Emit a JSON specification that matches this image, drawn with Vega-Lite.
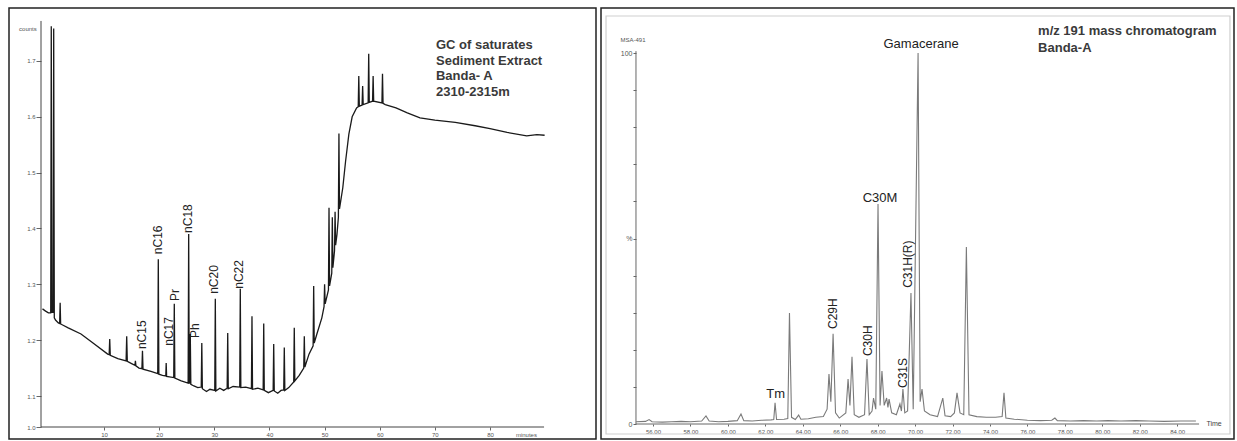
{
  "$schema": "https://vega.github.io/schema/vega-lite/v6.json",
  "autosize": {"type": "pad"},
  "padding": {"left": 8, "top": 7, "right": 0, "bottom": 0},
  "background": "white",
  "spacing": 5,
  "bounds": "flush",
  "config": {
    "view": {"stroke": "#222", "strokeWidth": 1.5},
    "font": "Liberation Sans",
    "axis": {"domain": false, "grid": false, "labelColor": "#555", "tickColor": "#666", "title": null, "labelFont": "Liberation Sans"}
  },
  "datasets": {
    "one": [{}],
    "gc": [
      {"m": -1.16, "v": 1.256}, {"m": -0.6, "v": 1.252}, {"m": -0.09, "v": 1.249}, {"m": 0.33, "v": 1.249},
      {"m": 0.43, "v": 1.762}, {"m": 0.55, "v": 1.25}, {"m": 0.78, "v": 1.25}, {"m": 0.87, "v": 1.758},
      {"m": 0.98, "v": 1.24}, {"m": 1.2, "v": 1.236}, {"m": 1.71, "v": 1.231}, {"m": 1.95, "v": 1.23},
      {"m": 2.04, "v": 1.267}, {"m": 2.13, "v": 1.229}, {"m": 3.5, "v": 1.222}, {"m": 5.82, "v": 1.211},
      {"m": 8.0, "v": 1.195}, {"m": 10.66, "v": 1.175}, {"m": 10.93, "v": 1.174}, {"m": 11.03, "v": 1.202},
      {"m": 11.13, "v": 1.173}, {"m": 12.5, "v": 1.167}, {"m": 14.0, "v": 1.163}, {"m": 14.11, "v": 1.207},
      {"m": 14.22, "v": 1.162}, {"m": 15.0, "v": 1.158}, {"m": 15.6, "v": 1.155}, {"m": 15.69, "v": 1.163},
      {"m": 15.78, "v": 1.154}, {"m": 16.34, "v": 1.15}, {"m": 16.87, "v": 1.149}, {"m": 16.97, "v": 1.181},
      {"m": 17.07, "v": 1.148}, {"m": 18.5, "v": 1.144}, {"m": 19.74, "v": 1.14}, {"m": 19.84, "v": 1.345},
      {"m": 19.94, "v": 1.139}, {"m": 20.6, "v": 1.137}, {"m": 21.2, "v": 1.136}, {"m": 21.27, "v": 1.159},
      {"m": 21.35, "v": 1.135}, {"m": 22.64, "v": 1.133}, {"m": 22.74, "v": 1.265}, {"m": 22.84, "v": 1.132},
      {"m": 24.0, "v": 1.127}, {"m": 25.25, "v": 1.123}, {"m": 25.35, "v": 1.39}, {"m": 25.45, "v": 1.123},
      {"m": 25.55, "v": 1.123}, {"m": 25.64, "v": 1.211}, {"m": 25.74, "v": 1.121}, {"m": 26.3, "v": 1.118},
      {"m": 27.0, "v": 1.115}, {"m": 27.63, "v": 1.116}, {"m": 27.73, "v": 1.195}, {"m": 27.83, "v": 1.113},
      {"m": 28.58, "v": 1.108}, {"m": 29.2, "v": 1.112}, {"m": 30.08, "v": 1.11}, {"m": 30.18, "v": 1.274},
      {"m": 30.28, "v": 1.109}, {"m": 31.0, "v": 1.114}, {"m": 31.7, "v": 1.11}, {"m": 32.33, "v": 1.114},
      {"m": 32.43, "v": 1.213}, {"m": 32.53, "v": 1.113}, {"m": 33.4, "v": 1.117}, {"m": 34.61, "v": 1.116},
      {"m": 34.71, "v": 1.292}, {"m": 34.81, "v": 1.115}, {"m": 35.7, "v": 1.116}, {"m": 36.73, "v": 1.113},
      {"m": 36.83, "v": 1.243}, {"m": 36.93, "v": 1.112}, {"m": 37.9, "v": 1.114}, {"m": 38.86, "v": 1.111},
      {"m": 38.96, "v": 1.23}, {"m": 39.06, "v": 1.11}, {"m": 39.8, "v": 1.106}, {"m": 40.67, "v": 1.11},
      {"m": 40.77, "v": 1.193}, {"m": 40.87, "v": 1.109}, {"m": 41.5, "v": 1.105}, {"m": 42.1, "v": 1.11},
      {"m": 42.59, "v": 1.111}, {"m": 42.69, "v": 1.187}, {"m": 42.79, "v": 1.11}, {"m": 43.5, "v": 1.115},
      {"m": 44.4, "v": 1.125}, {"m": 44.5, "v": 1.222}, {"m": 44.6, "v": 1.127}, {"m": 45.4, "v": 1.137},
      {"m": 46.22, "v": 1.15}, {"m": 46.32, "v": 1.207}, {"m": 46.42, "v": 1.152}, {"m": 47.17, "v": 1.175},
      {"m": 47.92, "v": 1.19}, {"m": 48.02, "v": 1.297}, {"m": 48.12, "v": 1.195}, {"m": 48.6, "v": 1.211},
      {"m": 49.5, "v": 1.24}, {"m": 49.9, "v": 1.26}, {"m": 50.0, "v": 1.3}, {"m": 50.1, "v": 1.265},
      {"m": 50.7, "v": 1.29}, {"m": 50.8, "v": 1.437}, {"m": 50.9, "v": 1.297}, {"m": 51.3, "v": 1.32},
      {"m": 51.4, "v": 1.42}, {"m": 51.5, "v": 1.33}, {"m": 51.8, "v": 1.36}, {"m": 51.9, "v": 1.43},
      {"m": 52.0, "v": 1.37}, {"m": 52.25, "v": 1.39}, {"m": 52.5, "v": 1.42}, {"m": 52.6, "v": 1.57},
      {"m": 52.7, "v": 1.435}, {"m": 53.3, "v": 1.473}, {"m": 53.8, "v": 1.52}, {"m": 54.4, "v": 1.569},
      {"m": 55.0, "v": 1.6}, {"m": 55.8, "v": 1.616}, {"m": 56.1, "v": 1.618}, {"m": 56.2, "v": 1.673},
      {"m": 56.3, "v": 1.619}, {"m": 56.8, "v": 1.621}, {"m": 56.9, "v": 1.655}, {"m": 57.0, "v": 1.622},
      {"m": 57.9, "v": 1.625}, {"m": 58.0, "v": 1.713}, {"m": 58.1, "v": 1.626}, {"m": 58.7, "v": 1.628},
      {"m": 58.8, "v": 1.673}, {"m": 58.9, "v": 1.628}, {"m": 60.4, "v": 1.625}, {"m": 60.5, "v": 1.677},
      {"m": 60.6, "v": 1.624}, {"m": 61.0, "v": 1.622}, {"m": 62.95, "v": 1.616}, {"m": 65.0, "v": 1.607},
      {"m": 67.3, "v": 1.598}, {"m": 70.0, "v": 1.594}, {"m": 73.7, "v": 1.59}, {"m": 77.3, "v": 1.584},
      {"m": 80.0, "v": 1.579}, {"m": 83.1, "v": 1.572}, {"m": 86.65, "v": 1.566}, {"m": 88.5, "v": 1.568},
      {"m": 89.9, "v": 1.567}
    ],
    "gcLabels": [
      {"m": 16.97, "v": 1.184, "label": "nC15"},
      {"m": 19.84, "v": 1.354, "label": "nC16"},
      {"m": 21.85, "v": 1.19, "label": "nC17"},
      {"m": 22.87, "v": 1.27, "label": "Pr"},
      {"m": 25.23, "v": 1.392, "label": "nC18"},
      {"m": 26.44, "v": 1.204, "label": "Ph"},
      {"m": 30.01, "v": 1.283, "label": "nC20"},
      {"m": 34.53, "v": 1.292, "label": "nC22"}
    ],
    "mz": [
      {"t": 55.1, "p": 0.6}, {"t": 55.6, "p": 0.7}, {"t": 55.79, "p": 1.2}, {"t": 55.95, "p": 0.6},
      {"t": 56.5, "p": 0.5}, {"t": 57.0, "p": 0.6}, {"t": 57.5, "p": 0.7}, {"t": 58.0, "p": 0.6},
      {"t": 58.6, "p": 0.8}, {"t": 58.83, "p": 2.2}, {"t": 59.0, "p": 0.8}, {"t": 59.5, "p": 0.6},
      {"t": 60.0, "p": 0.7}, {"t": 60.5, "p": 0.9}, {"t": 60.7, "p": 2.7}, {"t": 60.85, "p": 0.9},
      {"t": 61.3, "p": 0.8}, {"t": 61.8, "p": 1.0}, {"t": 62.3, "p": 1.1}, {"t": 62.45, "p": 1.2},
      {"t": 62.52, "p": 5.7}, {"t": 62.6, "p": 1.2}, {"t": 63.0, "p": 1.3}, {"t": 63.2, "p": 1.5},
      {"t": 63.29, "p": 29.9}, {"t": 63.4, "p": 1.8}, {"t": 63.6, "p": 1.2}, {"t": 63.78, "p": 2.4},
      {"t": 63.9, "p": 1.3}, {"t": 64.3, "p": 1.4}, {"t": 64.7, "p": 1.8}, {"t": 65.1, "p": 2.0},
      {"t": 65.3, "p": 4}, {"t": 65.4, "p": 13.5}, {"t": 65.5, "p": 6}, {"t": 65.62, "p": 24.3},
      {"t": 65.75, "p": 3}, {"t": 65.95, "p": 1.6}, {"t": 66.3, "p": 3}, {"t": 66.42, "p": 12.1},
      {"t": 66.52, "p": 5}, {"t": 66.63, "p": 18.1}, {"t": 66.75, "p": 2.5}, {"t": 67.0, "p": 1.8},
      {"t": 67.3, "p": 2.5}, {"t": 67.43, "p": 17.5}, {"t": 67.55, "p": 2.5}, {"t": 67.7, "p": 3.5},
      {"t": 67.78, "p": 7}, {"t": 67.9, "p": 4}, {"t": 68.02, "p": 59.3}, {"t": 68.13, "p": 5},
      {"t": 68.23, "p": 14.3}, {"t": 68.35, "p": 5}, {"t": 68.48, "p": 7}, {"t": 68.55, "p": 4.5},
      {"t": 68.61, "p": 6.7}, {"t": 68.75, "p": 3.0}, {"t": 69.0, "p": 2.5}, {"t": 69.19, "p": 5.4},
      {"t": 69.27, "p": 3.5}, {"t": 69.35, "p": 9.4}, {"t": 69.45, "p": 3}, {"t": 69.6, "p": 3.5},
      {"t": 69.78, "p": 35.3}, {"t": 69.9, "p": 4}, {"t": 70.16, "p": 100}, {"t": 70.27, "p": 6},
      {"t": 70.37, "p": 9.4}, {"t": 70.5, "p": 3.5}, {"t": 70.8, "p": 2.5}, {"t": 71.2, "p": 2.0},
      {"t": 71.48, "p": 7}, {"t": 71.6, "p": 2.2}, {"t": 71.9, "p": 2.0}, {"t": 72.1, "p": 3},
      {"t": 72.24, "p": 8.4}, {"t": 72.4, "p": 3}, {"t": 72.6, "p": 2.5}, {"t": 72.74, "p": 47.7},
      {"t": 72.88, "p": 2.5}, {"t": 73.3, "p": 2.0}, {"t": 73.8, "p": 1.8}, {"t": 74.3, "p": 1.8},
      {"t": 74.65, "p": 2.0}, {"t": 74.75, "p": 8.4}, {"t": 74.85, "p": 1.6}, {"t": 75.3, "p": 1.3},
      {"t": 76.0, "p": 1.0}, {"t": 76.7, "p": 0.9}, {"t": 77.3, "p": 1.0}, {"t": 77.47, "p": 1.6},
      {"t": 77.6, "p": 0.9}, {"t": 78.3, "p": 0.8}, {"t": 79.0, "p": 0.9}, {"t": 79.7, "p": 0.8},
      {"t": 80.3, "p": 0.9}, {"t": 81.0, "p": 0.8}, {"t": 81.8, "p": 0.9}, {"t": 82.5, "p": 0.8},
      {"t": 83.3, "p": 0.7}, {"t": 84.2, "p": 0.8}, {"t": 85.0, "p": 0.8}
    ],
    "mzRot": [
      {"t": 65.62, "p": 25.6, "label": "C29H"},
      {"t": 67.51, "p": 18.3, "label": "C30H"},
      {"t": 69.33, "p": 9.7, "label": "C31S"},
      {"t": 69.64, "p": 36.7, "label": "C31H(R)"}
    ],
    "mzFlat": [
      {"t": 70.32, "p": 102.4, "label": "Gamacerane"},
      {"t": 68.13, "p": 60.9, "label": "C30M"},
      {"t": 62.55, "p": 8.1, "label": "Tm"}
    ]
  },
  "hconcat": [
    {
      "width": 587,
      "height": 431,
      "layer": [
        {
          "data": {"name": "gc"},
          "mark": {"type": "line", "color": "#1a1a1a", "strokeWidth": 1.3, "interpolate": "linear"},
          "encoding": {
            "x": {"field": "m", "type": "quantitative", "sort": null,
              "scale": {"domain": [-7.236, 99.22], "zero": false, "nice": false},
              "axis": {"values": [10, 20, 30, 40, 50, 60, 70, 80], "offset": -12, "labelFontSize": 6, "tickSize": 3, "labelPadding": 1}},
            "y": {"field": "v", "type": "quantitative",
              "scale": {"domain": [0.9613, 1.0, 1.1, 1.7949], "range": [431, 419, 388, 0], "zero": false, "nice": false},
              "axis": {"values": [1.0, 1.1, 1.2, 1.3, 1.4, 1.5, 1.6, 1.7], "format": ".1f", "offset": -32, "labelFontSize": 6, "tickSize": 5, "labelPadding": 1}}
          }
        },
        {
          "data": {"name": "one"},
          "mark": {"type": "rule", "color": "#444", "strokeWidth": 1},
          "encoding": {"x": {"datum": -1.43}, "y": {"datum": 1.0}, "y2": {"datum": 1.7717}}
        },
        {
          "data": {"name": "one"},
          "mark": {"type": "rule", "color": "#444", "strokeWidth": 1},
          "encoding": {"y": {"datum": 1.0}, "x": {"datum": -1.43}, "x2": {"datum": 89.8}}
        },
        {
          "data": {"name": "gcLabels"},
          "mark": {"type": "text", "angle": 270, "align": "left", "baseline": "middle", "fontSize": 12, "color": "#222", "font": "Liberation Sans"},
          "encoding": {"x": {"field": "m", "type": "quantitative"}, "y": {"field": "v", "type": "quantitative"}, "text": {"field": "label"}}
        },
        {
          "data": {"name": "one"},
          "mark": {"type": "text", "align": "left", "baseline": "top", "fontSize": 13, "fontWeight": "bold", "color": "#3a3a3a", "lineHeight": 15.7, "font": "Liberation Sans"},
          "encoding": {"x": {"datum": 70.2}, "y": {"datum": 1.7394}, "text": {"value": ["GC  of saturates", "Sediment Extract", "Banda- A", "2310-2315m"]}}
        },
        {
          "data": {"name": "one"},
          "mark": {"type": "text", "align": "center", "baseline": "middle", "fontSize": 6, "color": "#555"},
          "encoding": {"x": {"datum": -3.8}, "y": {"datum": 1.758}, "text": {"value": "counts"}}
        },
        {
          "data": {"name": "one"},
          "mark": {"type": "text", "align": "center", "baseline": "middle", "fontSize": 6, "color": "#555"},
          "encoding": {"x": {"datum": 86.6}, "y": {"datum": 0.975}, "text": {"value": "minutes"}}
        }
      ]
    },
    {
      "width": 633,
      "height": 431,
      "layer": [
        {
          "data": {"name": "one"},
          "mark": {"type": "rect", "filled": false, "stroke": "#cfcfcf", "strokeWidth": 1.2},
          "encoding": {"x": {"datum": 53.49, "type": "quantitative", "scale": {"domain": [53.222, 87.036], "zero": false, "nice": false}}, "x2": {"datum": 86.82}, "y": {"datum": 109.97, "type": "quantitative", "scale": {"domain": [-4.043, 112.13], "zero": false, "nice": false}}, "y2": {"datum": -2.7}}
        },
        {
          "data": {"name": "mz"},
          "mark": {"type": "line", "color": "#7a7a7a", "strokeWidth": 1.1},
          "encoding": {
            "x": {"field": "t", "type": "quantitative", "sort": null,
              "axis": {"values": [56, 56.5, 57, 57.5, 58, 58.5, 59, 59.5, 60, 60.5, 61, 61.5, 62, 62.5, 63, 63.5, 64, 64.5, 65, 65.5, 66, 66.5, 67, 67.5, 68, 68.5, 69, 69.5, 70, 70.5, 71, 71.5, 72, 72.5, 73, 73.5, 74, 74.5, 75, 75.5, 76, 76.5, 77, 77.5, 78, 78.5, 79, 79.5, 80, 80.5, 81, 81.5, 82, 82.5, 83, 83.5, 84, 84.5, 85],
                "labelExpr": "datum.value % 2 == 0 ? format(datum.value, '.2f') : ''", "offset": -15, "labelFontSize": 6, "tickSize": 2, "labelPadding": 2}},
            "y": {"field": "p", "type": "quantitative",
              "axis": {"values": [0, 10, 20, 30, 40, 50, 60, 70, 80, 90, 100], "labelExpr": "datum.value == 0 ? '0' : datum.value == 50 ? '%' : datum.value == 100 ? '100' : ''", "offset": -35, "labelFontSize": 7, "tickSize": 3, "labelPadding": 1}}
          }
        },
        {
          "data": {"name": "one"},
          "mark": {"type": "rule", "color": "#666", "strokeWidth": 1},
          "encoding": {"x": {"datum": 55.09}, "y": {"datum": 0}, "y2": {"datum": 100.5}}
        },
        {
          "data": {"name": "one"},
          "mark": {"type": "rule", "color": "#666", "strokeWidth": 1},
          "encoding": {"y": {"datum": 0}, "x": {"datum": 55.09}, "x2": {"datum": 85.17}}
        },
        {
          "data": {"name": "mzRot"},
          "mark": {"type": "text", "angle": 270, "align": "left", "baseline": "middle", "fontSize": 12, "color": "#222", "font": "Liberation Sans"},
          "encoding": {"x": {"field": "t", "type": "quantitative"}, "y": {"field": "p", "type": "quantitative"}, "text": {"field": "label"}}
        },
        {
          "data": {"name": "mzFlat"},
          "mark": {"type": "text", "align": "center", "baseline": "middle", "fontSize": 13, "color": "#222", "font": "Liberation Sans"},
          "encoding": {"x": {"field": "t", "type": "quantitative"}, "y": {"field": "p", "type": "quantitative"}, "text": {"field": "label"}}
        },
        {
          "data": {"name": "one"},
          "mark": {"type": "text", "align": "left", "baseline": "top", "fontSize": 13, "fontWeight": "bold", "color": "#3a3a3a", "lineHeight": 17, "font": "Liberation Sans"},
          "encoding": {"x": {"datum": 76.57}, "y": {"datum": 107.5}, "text": {"value": ["m/z 191 mass chromatogram", "Banda-A"]}}
        },
        {
          "data": {"name": "one"},
          "mark": {"type": "text", "align": "center", "baseline": "middle", "fontSize": 6, "color": "#555"},
          "encoding": {"x": {"datum": 54.93}, "y": {"datum": 103.5}, "text": {"value": "MSA-491"}}
        },
        {
          "data": {"name": "one"},
          "mark": {"type": "text", "align": "center", "baseline": "middle", "fontSize": 7, "color": "#444"},
          "encoding": {"x": {"datum": 85.97}, "y": {"datum": 0}, "text": {"value": "Time"}}
        }
      ]
    }
  ]
}
